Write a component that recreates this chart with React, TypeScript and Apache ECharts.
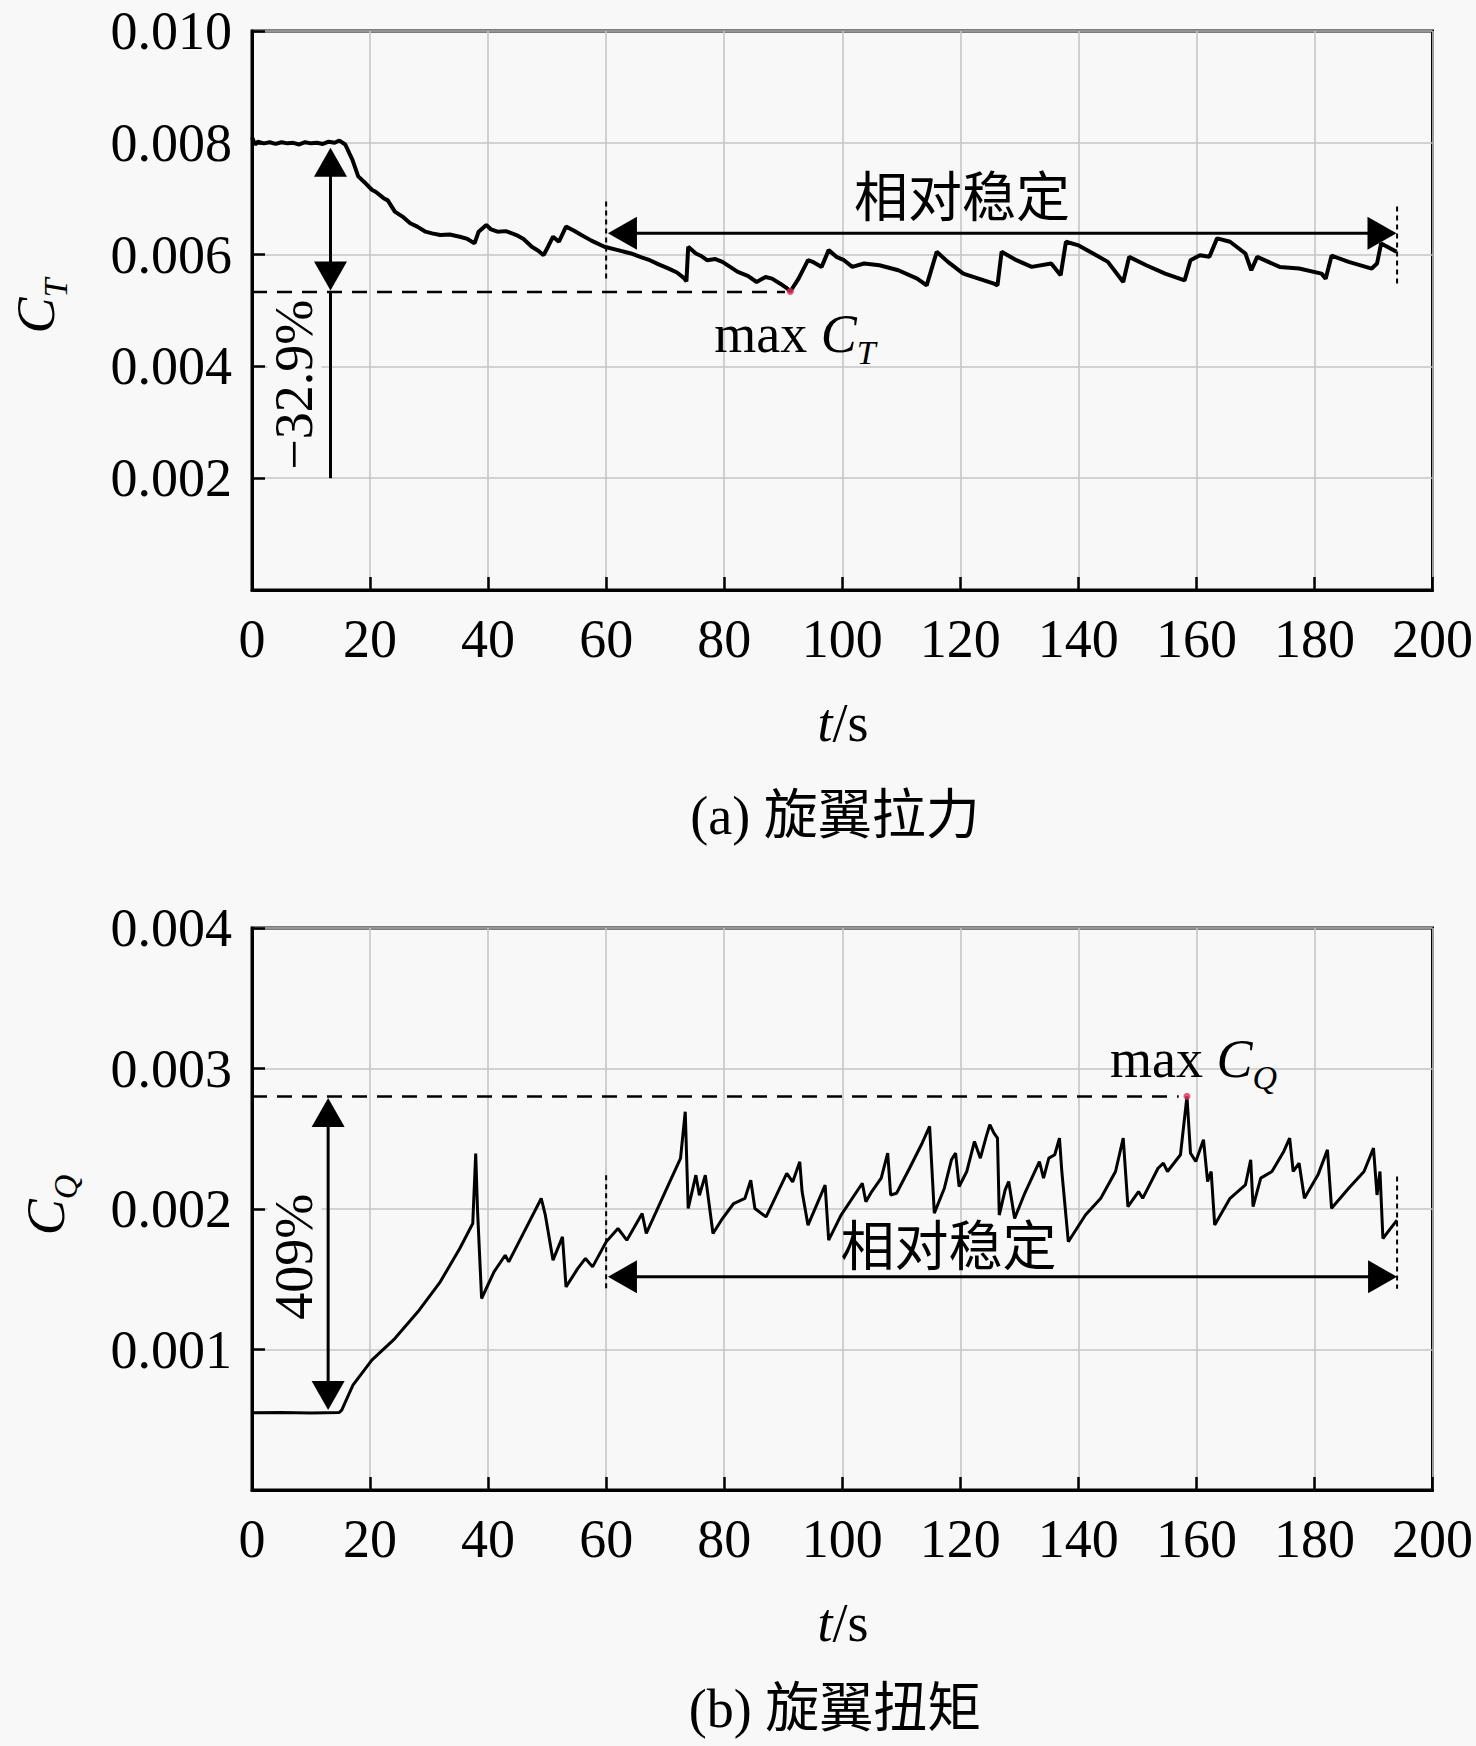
import React, { useEffect, useRef } from "react";
import * as echarts from "echarts";

// ---------- data ----------
const ctT = [0, 0.5, 1, 2, 3, 4, 5, 6, 7, 8, 9, 10, 11, 12, 13, 14, 14.8, 15.8, 17, 18, 19, 20.3, 21, 22.3, 23, 24.2, 25.5, 26.8, 28, 29.4, 30.5, 31.9, 33.5, 35.2, 36.5, 37.7, 38.4, 39.7, 40.5, 41.6, 43, 44.8, 46, 47.4, 48.5, 49.4, 50.2, 51, 52, 53.2, 54.5, 55.8, 57.5, 59.7, 62, 64.2, 66, 67.4, 69, 70.6, 72, 73.2, 73.6, 73.9, 75.2, 76, 77.1, 78.5, 79.7, 81, 82.3, 84, 85.5, 87, 88.1, 89.5, 90.6, 91.2, 92.6, 94.2, 95.2, 96.5, 97.7, 99, 100.3, 101.7, 103.7, 106.3, 109.5, 112.7, 114.3, 116, 117.9, 120.5, 123.1, 125.7, 126.3, 127, 129.5, 132.1, 135.4, 137, 137.9, 139.9, 142.5, 145, 147.6, 148.6, 151.5, 154.7, 158, 159, 160.6, 162.2, 163.5, 165.7, 168.3, 169.3, 170.3, 174.1, 177.4, 181.2, 181.9, 182.9, 185.8, 189.7, 190.6, 191.3, 193.9];
const ctV = [0.0081, 0.00797, 0.00802, 0.00799, 0.00801, 0.00798, 0.00801, 0.00799, 0.008, 0.00797, 0.00801, 0.00799, 0.008, 0.00798, 0.00802, 0.008, 0.00804, 0.00797, 0.0077, 0.0074, 0.0073, 0.00716, 0.00712, 0.00701, 0.00697, 0.00677, 0.00668, 0.00656, 0.0065, 0.00641, 0.00638, 0.00635, 0.00636, 0.00632, 0.00628, 0.0062, 0.00641, 0.00653, 0.00645, 0.00641, 0.00642, 0.00635, 0.00628, 0.00614, 0.00607, 0.00599, 0.00615, 0.00632, 0.00623, 0.0065, 0.00643, 0.00635, 0.00625, 0.00614, 0.00608, 0.00602, 0.00595, 0.0059, 0.00582, 0.00575, 0.00568, 0.00558, 0.00552, 0.00614, 0.00602, 0.00598, 0.0059, 0.00592, 0.00587, 0.00578, 0.00569, 0.00562, 0.00551, 0.0056, 0.00557, 0.00548, 0.0054, 0.00534, 0.00557, 0.0059, 0.00586, 0.00578, 0.00608, 0.00596, 0.0059, 0.00578, 0.00584, 0.00581, 0.00572, 0.00557, 0.00545, 0.00605, 0.00587, 0.00566, 0.00557, 0.00548, 0.00545, 0.00605, 0.0059, 0.00578, 0.00584, 0.00563, 0.00623, 0.00617, 0.00602, 0.00587, 0.00551, 0.00596, 0.00581, 0.00566, 0.00554, 0.0059, 0.00599, 0.00596, 0.00629, 0.00623, 0.00602, 0.00572, 0.00596, 0.00578, 0.00575, 0.00566, 0.00557, 0.00598, 0.00587, 0.00575, 0.00584, 0.0062, 0.00605];

const cqT = [0, 5, 10, 14.8, 15.2, 17.1, 20.3, 24.2, 28.1, 31.9, 35.2, 37.4, 37.9, 38.2, 38.9, 41, 42.9, 43.5, 46.1, 49, 49.7, 51, 52.6, 53.2, 55.2, 56.5, 57.7, 60, 62, 63.5, 66.1, 66.8, 70, 72.6, 73.4, 73.9, 75.2, 75.8, 76.8, 78.1, 79.7, 81.6, 83.5, 84.5, 85.2, 87.1, 90.6, 91.6, 92.8, 93.2, 94.2, 97.1, 97.7, 99.8, 103.4, 104, 105, 106.6, 107.7, 108.2, 109.2, 111.4, 113.4, 114.8, 115.6, 117.3, 118.5, 119.2, 119.8, 121.1, 122.4, 123.4, 124.4, 125, 125.7, 126.3, 126.6, 127.6, 128.2, 129.2, 130.8, 133.4, 134.1, 135, 136, 136.8, 137.2, 138.3, 141.2, 143.8, 146.3, 147.6, 148.4, 150.2, 150.9, 153.5, 154.4, 155.1, 157.3, 158.4, 159, 159.9, 161.2, 161.9, 162.5, 163.1, 165.7, 168.3, 169.2, 169.6, 170.9, 172.8, 174.8, 175.8, 176.4, 177.4, 178.3, 180.6, 182.2, 182.9, 185.8, 188.4, 190, 190.6, 191.1, 191.6, 192.9, 194];
const cqV = [0.00055, 0.000552, 0.000548, 0.000552, 0.000568, 0.000746, 0.000924, 0.001078, 0.001268, 0.001482, 0.001719, 0.001897, 0.002395, 0.002, 0.001363, 0.001553, 0.001671, 0.001624, 0.001837, 0.002075, 0.001956, 0.001636, 0.001802, 0.001446, 0.001577, 0.001648, 0.001588, 0.001766, 0.001861, 0.001778, 0.001968, 0.001826, 0.002122, 0.00236, 0.002692, 0.002004, 0.002241, 0.002098, 0.002241, 0.001826, 0.001932, 0.002039, 0.002075, 0.002205, 0.002004, 0.001944, 0.002253, 0.002193, 0.002336, 0.002122, 0.001885, 0.00217, 0.001778, 0.001957, 0.002183, 0.002052, 0.002124, 0.00222, 0.002398, 0.0021, 0.002112, 0.00229, 0.002457, 0.002588, 0.001971, 0.002148, 0.00235, 0.002398, 0.00216, 0.002267, 0.002481, 0.002362, 0.002517, 0.0026, 0.00254, 0.002505, 0.001957, 0.002136, 0.002195, 0.001933, 0.0021, 0.002338, 0.00222, 0.002362, 0.002386, 0.002505, 0.002267, 0.001767, 0.001957, 0.002076, 0.002267, 0.002505, 0.002017, 0.002124, 0.002076, 0.00229, 0.002326, 0.002267, 0.002386, 0.002802, 0.002398, 0.002338, 0.002493, 0.002195, 0.002267, 0.001886, 0.002076, 0.002171, 0.00235, 0.002017, 0.00222, 0.002267, 0.00241, 0.002505, 0.002267, 0.002326, 0.002076, 0.002243, 0.002421, 0.002005, 0.002148, 0.002267, 0.002433, 0.0021, 0.002267, 0.00179, 0.001862, 0.001921];

const xTicks = [0, 20, 40, 60, 80, 100, 120, 140, 160, 180, 200];
const ctTicks = [0.002, 0.004, 0.006, 0.008, 0.01];
const cqTicks = [0.001, 0.002, 0.003, 0.004];

const ctMax = [91.2, 0.00534];
const cqMax = [158.4, 0.002802];
const ctDrop = "\u221232.9%";
const cqRise = "409%";
const stableLabel = "相对稳定";
const captionA = "(a) 旋翼拉力";
const captionB = "(b) 旋翼扭矩";

// annotations in data coordinates (drawn in order)
const annTop = [
  { kind: "rot", x: 7.2, y: 0.00367, text: ctDrop },
  { kind: "dash", x1: 0, y1: 0.00533, x2: 90.3, y2: 0.00533, dash: [15, 10], w: 2.5 },
  { kind: "dash", x1: 60, y1: 0.00695, x2: 60, y2: 0.0055, dash: [5, 4], w: 2 },
  { kind: "dash", x1: 194, y1: 0.00686, x2: 194, y2: 0.00545, dash: [5, 4], w: 2 },
  { kind: "line", x1: 13.3, y1: 0.00535, x2: 13.3, y2: 0.002 },
  { kind: "arrow", x1: 13.3, y1: 0.00791, x2: 13.3, y2: 0.00536, h1: true, h2: true },
  { kind: "arrow", x1: 60.3, y1: 0.00638, x2: 193.9, y2: 0.00638, h1: true, h2: true },
  { kind: "text", x: 120.3, y: 0.00699, text: stableLabel, cjk: true },
  { kind: "rich", x: 92, y: 0.00458, text: "{n|max }{c|C}{s|T}" },
];
const annBottom = [
  { kind: "rot", x: 7.2, y: 0.00166, text: cqRise },
  { kind: "dash", x1: 0, y1: 0.0028, x2: 157, y2: 0.0028, dash: [15, 10], w: 2.5 },
  { kind: "dash", x1: 60, y1: 0.002241, x2: 60, y2: 0.001434, dash: [5, 4], w: 2 },
  { kind: "dash", x1: 194, y1: 0.002231, x2: 194, y2: 0.001433, dash: [5, 4], w: 2 },
  { kind: "arrow", x1: 12.9, y1: 0.00279, x2: 12.9, y2: 0.00057, h1: true, h2: true },
  { kind: "arrow", x1: 60.3, y1: 0.001517, x2: 194, y2: 0.001517, h1: true, h2: true },
  { kind: "text", x: 118, y: 0.001722, text: stableLabel, cjk: true },
  { kind: "rich", x: 159.5, y: 0.00307, text: "{n|max }{c|C}{s|Q}" },
];

const SERIF = "Liberation Serif";
const CJK = "Liberation Serif, Noto Sans CJK SC";
const BG = "#f8f8f8";
const FS = 54;

const richStyles = {
  n: { fontFamily: SERIF, fontSize: FS, lineHeight: 72, verticalAlign: "middle", fill: "#000" },
  c: { fontFamily: SERIF, fontSize: FS, fontStyle: "italic", lineHeight: 72, verticalAlign: "middle", fill: "#000" },
  s: { fontFamily: SERIF, fontSize: 34, fontStyle: "italic", lineHeight: 72, verticalAlign: "bottom", fill: "#000" },
  i: { fontFamily: SERIF, fontSize: FS, fontStyle: "italic", fill: "#000" },
  r: { fontFamily: SERIF, fontSize: FS, fill: "#000" },
};

function makeRender(anns: any[]) {
  return (params: any, api: any) => {
    const a = anns[params.dataIndex];
    if (!a) return null;
    const children: any[] = [];
    if (a.kind === "dash" || a.kind === "line") {
      const p1 = api.coord([a.x1, a.y1]);
      const p2 = api.coord([a.x2, a.y2]);
      children.push({
        type: "line",
        shape: { x1: p1[0], y1: p1[1], x2: p2[0], y2: p2[1] },
        style: { stroke: "#000", lineWidth: a.w || 3, lineDash: a.kind === "dash" ? a.dash : null },
      });
    } else if (a.kind === "arrow") {
      const p1 = api.coord([a.x1, a.y1]);
      const p2 = api.coord([a.x2, a.y2]);
      const dx = p2[0] - p1[0];
      const dy = p2[1] - p1[1];
      const len = Math.sqrt(dx * dx + dy * dy) || 1;
      const ux = dx / len;
      const uy = dy / len;
      const nx = -uy;
      const ny = ux;
      const L = 29;
      const W = 33;
      const s = a.h1 ? [p1[0] + ux * L * 0.6, p1[1] + uy * L * 0.6] : p1;
      const e = a.h2 ? [p2[0] - ux * L * 0.6, p2[1] - uy * L * 0.6] : p2;
      children.push({
        type: "line",
        shape: { x1: s[0], y1: s[1], x2: e[0], y2: e[1] },
        style: { stroke: "#000", lineWidth: 3 },
      });
      if (a.h1) {
        children.push({
          type: "polygon",
          shape: {
            points: [
              [p1[0], p1[1]],
              [p1[0] + ux * L + (nx * W) / 2, p1[1] + uy * L + (ny * W) / 2],
              [p1[0] + ux * L - (nx * W) / 2, p1[1] + uy * L - (ny * W) / 2],
            ],
          },
          style: { fill: "#000" },
        });
      }
      if (a.h2) {
        children.push({
          type: "polygon",
          shape: {
            points: [
              [p2[0], p2[1]],
              [p2[0] - ux * L + (nx * W) / 2, p2[1] - uy * L + (ny * W) / 2],
              [p2[0] - ux * L - (nx * W) / 2, p2[1] - uy * L - (ny * W) / 2],
            ],
          },
          style: { fill: "#000" },
        });
      }
    } else if (a.kind === "text") {
      const p = api.coord([a.x, a.y]);
      children.push({
        type: "text",
        x: p[0],
        y: p[1],
        style: {
          text: a.text,
          fill: "#000",
          fontSize: FS,
          fontFamily: a.cjk ? CJK : SERIF,
          align: "center",
          verticalAlign: "middle",
        },
      });
    } else if (a.kind === "rich") {
      const p = api.coord([a.x, a.y]);
      children.push({
        type: "text",
        x: p[0],
        y: p[1],
        style: { text: a.text, rich: richStyles, align: "center", verticalAlign: "middle" },
      });
    } else if (a.kind === "rot") {
      const p = api.coord([a.x, a.y]);
      children.push({
        type: "text",
        x: p[0],
        y: p[1],
        rotation: Math.PI / 2,
        style: {
          text: a.text,
          fill: "#000",
          fontSize: FS,
          fontFamily: SERIF,
          align: "center",
          verticalAlign: "middle",
          backgroundColor: BG,
          padding: [0, 6],
        },
      });
    }
    return { type: "group", children };
  };
}

const G = [
  { left: 252, top: 31, width: 1181, height: 559 },
  { left: 252, top: 928, width: 1181, height: 562 },
];

export default function App() {
  const ref = useRef<HTMLDivElement>(null);
  useEffect(() => {
    document.body.style.margin = "0";
    document.body.style.background = BG;
    if (!ref.current) return;
    const chart = echarts.init(ref.current, null, { renderer: "svg" });

    const axisX = (gi: number) => ({
      type: "value",
      gridIndex: gi,
      min: 0,
      max: 200,
      interval: 20,
      axisLine: { show: true, lineStyle: { color: "#000", width: 3 } },
      axisTick: { show: true, inside: true, length: 13, lineStyle: { color: "#000", width: 2.5 } },
      axisLabel: { color: "#000", fontFamily: SERIF, fontSize: FS, margin: 22, formatter: (v: number) => (xTicks.includes(v) ? String(v) : "") },
      splitLine: { show: true, lineStyle: { color: "#c6c6c6", width: 1.6 } },
    });
    const axisY = (gi: number, max: number, interval: number, ticks: number[]) => ({
      type: "value",
      gridIndex: gi,
      min: 0,
      max,
      interval,
      axisLine: { show: true, lineStyle: { color: "#000", width: 3 } },
      axisTick: { show: true, inside: true, length: 13, lineStyle: { color: "#000", width: 2.5 } },
      axisLabel: {
        color: "#000",
        fontFamily: SERIF,
        fontSize: FS,
        margin: 20,
        formatter: (v: number) => (ticks.some((t) => Math.abs(t - v) < 1e-9) ? v.toFixed(3) : ""),
      },
      splitLine: { show: true, lineStyle: { color: "#c6c6c6", width: 1.6 } },
    });

    chart.setOption({
      animation: false,
      backgroundColor: BG,
      grid: G.map((g) => ({ ...g, show: true, borderColor: "#000", borderWidth: 3, backgroundColor: "transparent" })),
      xAxis: [axisX(0), axisX(1)],
      yAxis: [axisY(0, 0.01, 0.002, ctTicks), axisY(1, 0.004, 0.001, cqTicks)],
      series: [
        {
          type: "custom",
          xAxisIndex: 0,
          yAxisIndex: 0,
          clip: false,
          renderItem: makeRender(annTop),
          data: annTop.map(() => [100, 0.005]),
          z: 2,
        },
        {
          type: "custom",
          xAxisIndex: 1,
          yAxisIndex: 1,
          clip: false,
          renderItem: makeRender(annBottom),
          data: annBottom.map(() => [100, 0.002]),
          z: 2,
        },
        {
          type: "line",
          xAxisIndex: 0,
          yAxisIndex: 0,
          data: ctT.map((t, i) => [t, ctV[i]]),
          showSymbol: false,
          lineStyle: { color: "#000", width: 4 },
          z: 3,
        },
        {
          type: "line",
          xAxisIndex: 1,
          yAxisIndex: 1,
          data: cqT.map((t, i) => [t, cqV[i]]),
          showSymbol: false,
          lineStyle: { color: "#000", width: 3 },
          z: 3,
        },
        {
          type: "scatter",
          xAxisIndex: 0,
          yAxisIndex: 0,
          data: [ctMax],
          symbolSize: 7,
          itemStyle: { color: "#e0305a" },
          z: 5,
        },
        {
          type: "scatter",
          xAxisIndex: 1,
          yAxisIndex: 1,
          data: [cqMax],
          symbolSize: 7,
          itemStyle: { color: "#e0305a" },
          z: 5,
        },
      ],
      graphic: [
        {
          type: "text",
          x: 36,
          y: 306,
          rotation: Math.PI / 2,
          style: { text: "{c|C}{s|T}", rich: richStyles, align: "center", verticalAlign: "middle" },
        },
        {
          type: "text",
          x: 46,
          y: 1205,
          rotation: Math.PI / 2,
          style: { text: "{c|C}{s|Q}", rich: richStyles, align: "center", verticalAlign: "middle" },
        },
        {
          type: "text",
          x: 843,
          y: 723,
          style: { text: "{i|t}{r|/s}", rich: richStyles, align: "center", verticalAlign: "middle" },
        },
        {
          type: "text",
          x: 843,
          y: 1623,
          style: { text: "{i|t}{r|/s}", rich: richStyles, align: "center", verticalAlign: "middle" },
        },
        {
          type: "text",
          x: 835,
          y: 816,
          style: { text: captionA, fill: "#000", fontSize: FS, fontFamily: CJK, align: "center", verticalAlign: "middle" },
        },
        {
          type: "text",
          x: 835,
          y: 1709,
          style: { text: captionB, fill: "#000", fontSize: FS, fontFamily: CJK, align: "center", verticalAlign: "middle" },
        },
      ],
    });
    return () => chart.dispose();
  }, []);
  return <div ref={ref} style={{ width: 1476, height: 1746, background: BG }} />;
}
